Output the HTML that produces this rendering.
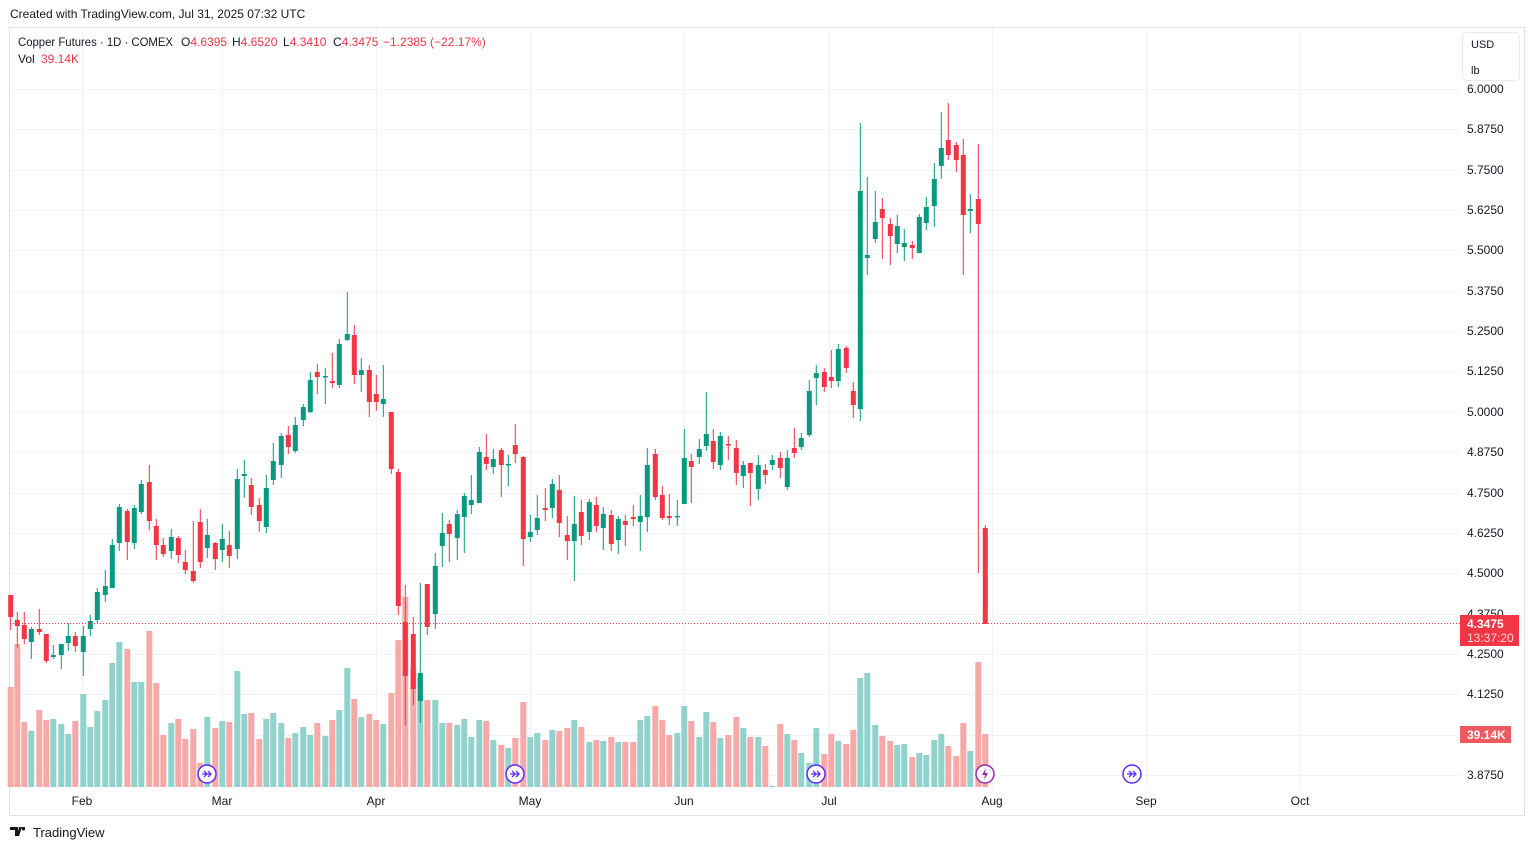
<!DOCTYPE html>
<html><head><meta charset="utf-8"><style>
html,body{margin:0;padding:0;background:#fff;width:1534px;height:850px;overflow:hidden;font-family:"Liberation Sans",sans-serif;}
svg{position:absolute;left:0;top:0}
</style></head><body>
<svg id="s" width="1534" height="850" xmlns="http://www.w3.org/2000/svg" font-family="Liberation Sans, sans-serif">
<rect x="0" y="0" width="1534" height="850" fill="#fff"/>
<text x="10" y="18" font-size="12" fill="#131722">Created with TradingView.com, Jul 31, 2025 07:32 UTC</text>
<rect x="9.5" y="27.5" width="1515" height="788" fill="none" stroke="#e0e3eb"/>
<g id="grid" stroke="#f0f3fa" stroke-width="1"></g>
<g id="vol"></g>
<g id="cnd"></g>
<line x1="10" y1="623.5" x2="1460" y2="623.5" stroke="#f23645" stroke-dasharray="1,2"/>
<g font-size="12" fill="#131722" id="plab"></g>
<rect x="1462.5" y="32.5" width="57" height="48" rx="4" fill="#fff" stroke="#e8eaf0"/>
<text x="1471" y="48" font-size="11" fill="#131722">USD</text>
<text x="1471" y="74" font-size="11" fill="#131722">lb</text>
<rect x="1460" y="615" width="59" height="31" fill="#f23645"/>
<text x="1467" y="628" font-size="12" font-weight="bold" fill="#fff">4.3475</text>
<text x="1467" y="642" font-size="12" fill="#ffd6d9">13:37:20</text>
<rect x="1460" y="726" width="51" height="17" fill="#f05a5f"/>
<text x="1467" y="739" font-size="12" font-weight="bold" fill="#fff">39.14K</text>
<g font-size="12" fill="#131722" text-anchor="middle">
<text x="82" y="805">Feb</text><text x="222" y="805">Mar</text><text x="376" y="805">Apr</text>
<text x="530" y="805">May</text><text x="684" y="805">Jun</text><text x="829" y="805">Jul</text>
<text x="992" y="805">Aug</text><text x="1146" y="805">Sep</text><text x="1300" y="805">Oct</text>
</g>
<g font-size="12" fill="#131722">
<text x="18" y="46" textLength="155" lengthAdjust="spacingAndGlyphs">Copper Futures · 1D · COMEX</text>
<text x="181" y="46">O<tspan fill="#f23645">4.6395</tspan></text>
<text x="232" y="46">H<tspan fill="#f23645">4.6520</tspan></text>
<text x="283" y="46">L<tspan fill="#f23645">4.3410</tspan></text>
<text x="333" y="46">C<tspan fill="#f23645">4.3475</tspan></text>
<text x="383" y="46" fill="#f23645">−1.2385 (−22.17%)</text>
<text x="18" y="63">Vol</text>
<text x="41" y="63" fill="#f23645">39.14K</text>
</g>
<g id="ev"></g>
<text x="33" y="837" font-size="13" fill="#131722">TradingView</text>
<path d="M10 827h8v9h-3v-6h-5z M19 827h3l-3 9h-2z M22 827h3v3a3 3 0 0 1-3 0z" fill="#131722"/>
</svg>
<script>
var NS="http://www.w3.org/2000/svg";
function el(p,t,a){var e=document.createElementNS(NS,t);for(var k in a)e.setAttribute(k,a[k]);p.appendChild(e);return e;}
var g=document.getElementById('grid');
var vx=[82,222,376,530,684,829,992,1146,1300];
vx.forEach(function(x){el(g,'line',{x1:x+.5,y1:28,x2:x+.5,y2:790});});
var pl=document.getElementById('plab');
var labs=["6.0000","5.8750","5.7500","5.6250","5.5000","5.3750","5.2500","5.1250","5.0000","4.8750","4.7500","4.6250","4.5000","4.3750","4.2500","4.1250","4.0000","3.8750"];
for(var i=0;i<18;i++){var y=Math.round(89+i*40.35);el(g,'line',{x1:10,y1:y+.5,x2:1460,y2:y+.5});
 if(i!=16){var t=el(pl,'text',{x:1467,y:y+4});t.textContent=labs[i];}}
var C=[
[10.7,595,617,595,630,'r'],[17.3,620,626,612,648,'r'],[24.3,625,639,612,644,'r'],[31.3,629,642,627,659,'g'],[39.3,629,632,609,635,'r'],
[46.3,634,661,634,663,'r'],[53.3,655,657,645,659,'g'],[61.3,644,655,644,669,'g'],[68.3,636,643,623,651,'g'],[75.3,636,646,632,652,'r'],
[83.3,636,652,626,676,'g'],[90.3,621,629,615,636,'g'],[97.3,592,620,588,623,'g'],[105.3,586,595,570,602,'g'],[112.3,545,588,539,588,'g'],
[119.3,507,543,504,551,'g'],[127.3,511,542,509,560,'r'],[134.3,508,543,505,549,'g'],[141.3,484,512,480,514,'g'],[149.3,482,521,465,530,'r'],
[156.3,526,545,519,560,'r'],[163.3,545,554,538,557,'r'],[171.3,537,551,529,559,'g'],[178.3,538,555,536,563,'r'],[185.3,562,570,550,574,'r'],
[193.3,571,581,521,583,'r'],[200.3,522,562,509,568,'r'],[207.3,535,548,519,558,'g'],[215.3,543,559,542,570,'r'],[222.3,539,550,524,562,'g'],
[229.3,545,556,531,568,'r'],[237.3,479,549,469,559,'g'],[244.3,474,476,460,498,'g'],[251.3,485,507,478,515,'r'],[259.3,505,521,498,532,'r'],
[266.3,488,527,475,533,'g'],[273.3,461,480,443,485,'g'],[281.3,436,465,433,478,'g'],[288.3,435,447,426,454,'r'],[295.3,425,451,417,453,'g'],
[303.3,407,420,404,426,'g'],[310.3,380,412,372,413,'g'],[317.3,372,377,364,394,'r'],[325.3,376,377,368,404,'g'],[332.3,381,383,353,388,'r'],
[339.3,344,385,339,388,'g'],[347.3,334,340,292,341,'g'],[354.3,335,375,325,384,'r'],[361.3,370,375,358,392,'g'],[369.3,370,402,365,417,'r'],
[376.3,394,402,375,411,'r'],[383.3,399,404,365,417,'g'],[391.3,412,469,412,474,'r'],[398.3,472,606,469,615,'r'],[405.3,622,676,585,725,'r'],
[413.3,634,689,617,705,'r'],[420.3,673,701,583,723,'g'],[427.3,584,627,584,635,'r'],[435.3,566,614,553,629,'g'],[442.3,533,546,513,567,'g'],
[449.3,524,534,520,562,'r'],[457.3,514,538,510,560,'g'],[464.3,496,517,493,553,'g'],[471.3,500,505,475,514,'g'],[479.3,452,503,447,503,'g'],
[486.3,457,464,434,470,'r'],[493.3,459,467,449,474,'g'],[501.3,450,465,448,497,'r'],[508.3,464,465,455,486,'g'],[515.3,445,454,424,463,'r'],
[523.3,457,539,456,566,'r'],[530.3,532,537,515,542,'g'],[537.3,518,530,495,535,'g'],[545.3,508,510,488,521,'r'],[552.3,484,508,479,518,'g'],
[559.3,490,523,475,537,'r'],[567.3,535,541,516,560,'r'],[574.3,524,541,496,581,'g'],[581.3,512,536,500,545,'r'],[589.3,502,532,499,540,'g'],
[596.3,505,526,497,532,'r'],[603.3,514,528,507,550,'g'],[611.3,515,544,510,551,'r'],[618.3,519,540,516,554,'g'],[625.3,521,525,515,546,'r'],
[633.3,517,519,505,526,'r'],[640.3,516,522,495,551,'g'],[647.3,465,517,448,532,'g'],[655.3,454,497,449,500,'r'],[662.3,495,518,486,520,'r'],
[669.3,516,518,494,525,'r'],[677.3,516,517,500,526,'g'],[684.3,458,504,429,504,'g'],[691.3,461,467,454,503,'r'],[699.3,449,457,439,464,'g'],
[706.3,434,446,392,451,'g'],[713.3,441,462,429,469,'r'],[720.3,436,465,432,470,'g'],[728.3,444,445,436,460,'r'],[736.3,448,473,440,485,'r'],
[743.3,465,476,461,488,'g'],[750.3,463,473,463,506,'r'],[758.3,465,489,455,500,'g'],[765.3,470,475,464,484,'r'],[772.3,460,465,455,470,'g'],
[780.3,458,468,452,478,'r'],[787.3,458,487,450,490,'g'],[794.3,448,453,428,458,'r'],[801.3,438,447,433,450,'g'],[809.3,391,435,380,437,'g'],
[816.3,373,378,365,405,'g'],[824.3,372,387,368,392,'r'],[831.3,377,381,350,388,'r'],[838.3,349,381,344,387,'g'],[846.3,348,368,346,373,'r'],
[853.3,391,405,382,418,'r'],[860.3,191,409,123,421,'g'],[867.3,255,258,177,275,'g'],[875.3,222,239,191,243,'g'],[882.3,209,218,198,259,'r'],
[890.3,224,236,218,265,'r'],[897.3,226,244,215,253,'g'],[904.3,243,247,229,261,'g'],[912.3,245,248,241,259,'r'],[919.3,217,253,214,253,'g'],
[926.3,207,223,197,230,'g'],[934.3,179,206,163,227,'g'],[941.3,148,166,112,179,'g'],[948.3,140,155,103,160,'r'],[956.3,145,160,142,172,'r'],
[963.3,155,215,139,275,'r'],[970.3,209,211,194,233,'g'],[978.3,199,224,144,573,'r'],[985.3,528,624,525,624,'r']];
var V=[[10.7,687,'r'],[17.3,644,'r'],[24.3,722,'r'],[31.3,731,'g'],[39.3,710,'r'],[46.3,720,'r'],[53.3,719,'g'],[61.3,724,'g'],[68.3,734,'g'],[75.3,721,'r'],
[83.3,694,'g'],[90.3,727,'g'],[97.3,711,'g'],[105.3,700,'g'],[112.3,663,'g'],[119.3,642,'g'],[127.3,649,'r'],[134.3,682,'g'],[141.3,682,'g'],[149.3,631,'r'],
[156.3,683,'r'],[163.3,735,'r'],[171.3,723,'g'],[178.3,719,'r'],[185.3,739,'r'],[193.3,729,'r'],[200.3,763,'r'],[207.3,717,'g'],[215.3,728,'r'],[222.3,721,'g'],
[229.3,722,'r'],[237.3,671,'g'],[244.3,714,'g'],[251.3,713,'r'],[259.3,739,'r'],[266.3,719,'g'],[273.3,713,'g'],[281.3,723,'g'],[288.3,738,'r'],[295.3,733,'g'],
[303.3,727,'g'],[310.3,735,'g'],[317.3,723,'r'],[325.3,736,'g'],[332.3,720,'r'],[339.3,710,'g'],[347.3,668,'g'],[354.3,699,'r'],[361.3,717,'g'],[369.3,714,'r'],
[376.3,720,'r'],[383.3,724,'g'],[391.3,693,'r'],[398.3,640,'r'],[405.3,597,'r'],[413.3,668,'r'],[420.3,678,'g'],[427.3,700,'r'],[435.3,700,'g'],[442.3,723,'g'],
[449.3,723,'r'],[457.3,725,'g'],[464.3,719,'g'],[471.3,737,'g'],[479.3,720,'g'],[486.3,721,'r'],[493.3,740,'g'],[501.3,745,'r'],[508.3,748,'g'],[515.3,738,'r'],
[523.3,702,'r'],[530.3,737,'g'],[537.3,733,'g'],[545.3,740,'r'],[552.3,730,'g'],[559.3,731,'r'],[567.3,728,'r'],[574.3,720,'g'],[581.3,727,'r'],[589.3,742,'g'],
[596.3,740,'r'],[603.3,741,'g'],[611.3,737,'r'],[618.3,742,'g'],[625.3,742,'r'],[633.3,742,'r'],[640.3,720,'g'],[647.3,716,'g'],[655.3,706,'r'],[662.3,720,'r'],
[669.3,735,'r'],[677.3,733,'g'],[684.3,706,'g'],[691.3,721,'r'],[699.3,737,'g'],[706.3,712,'g'],[713.3,722,'r'],[720.3,738,'g'],[728.3,735,'r'],[736.3,717,'r'],
[743.3,728,'g'],[750.3,737,'r'],[758.3,737,'g'],[765.3,746,'r'],[772.3,786,'g'],[780.3,724,'r'],[787.3,734,'g'],[794.3,740,'r'],[801.3,753,'g'],[809.3,763,'g'],
[816.3,728,'g'],[824.3,754,'r'],[831.3,734,'r'],[838.3,741,'g'],[846.3,744,'r'],[853.3,730,'r'],[860.3,678,'g'],[867.3,673,'g'],[875.3,725,'g'],[882.3,736,'r'],
[890.3,741,'r'],[897.3,745,'g'],[904.3,744,'g'],[912.3,757,'r'],[919.3,753,'g'],[926.3,755,'g'],[934.3,740,'g'],[941.3,734,'g'],[948.3,746,'r'],[956.3,756,'r'],
[963.3,723,'r'],[970.3,751,'g'],[978.3,662,'r'],[985.3,734,'r']];
var vg=document.getElementById('vol');
V.forEach(function(v){el(vg,'rect',{x:(v[0]-3).toFixed(1),y:v[1],width:6,height:787-v[1],fill:v[2]=='g'?'#92d2cc':'#f7a9a7'});});
var cg=document.getElementById('cnd');
C.forEach(function(c){var col=c[5]=='g'?'#089981':'#f23645';
 el(cg,'rect',{x:(c[0]-0.5).toFixed(1),y:c[3],width:1,height:c[4]-c[3],fill:col});
 el(cg,'rect',{x:(c[0]-2.5).toFixed(1),y:c[1],width:5,height:Math.max(1.5,c[2]-c[1]),fill:col});});
var eg=document.getElementById('ev');
[[207,'#5b2bff'],[515,'#5b2bff'],[816,'#5b2bff'],[985,'#9c27b0'],[1132,'#5b2bff']].forEach(function(e,i){
 el(eg,'circle',{cx:e[0],cy:774,r:9,fill:'#fff',stroke:e[1],'stroke-width':1.5});
 if(i==3){el(eg,'path',{d:'M986 768l-4 7h3l-1 5 4-7h-3z',fill:e[1]});}
 else{el(eg,'path',{d:'M'+(e[0]-5)+' 774h9M'+(e[0]+1)+' 771l3 3-3 3M'+(e[0]-3)+' 771l3 3-3 3',stroke:e[1],'stroke-width':1.3,fill:'none'});}
});
</script>
</body></html>
